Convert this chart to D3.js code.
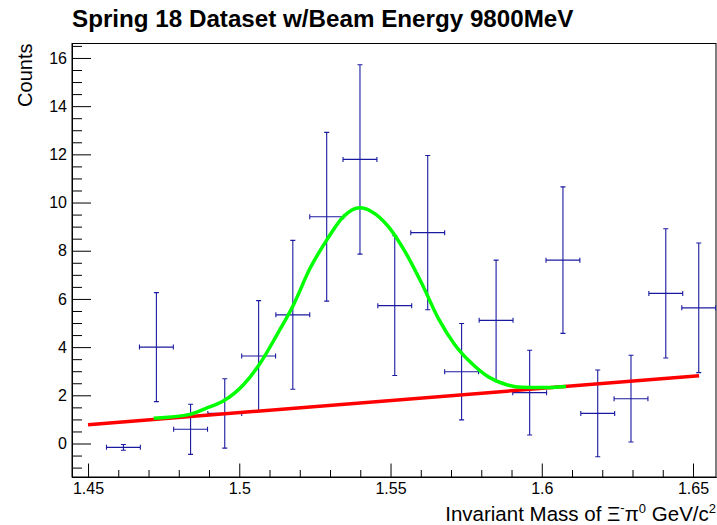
<!DOCTYPE html>
<html>
<head>
<meta charset="utf-8">
<script src="https://cdn.jsdelivr.net/npm/d3@7"></script>
<style>
  body { margin: 0; background: #fff; }
  svg text { font-family: "Liberation Sans", Arial, Helvetica, sans-serif; fill: #000; }
</style>
</head>
<body>
<div class="chart"></div>
<script>
//data
const binCenters = [1.4617, 1.4726, 1.4839, 1.4952, 1.5064, 1.5177, 1.5289, 1.5399, 1.5514,
                    1.5623, 1.5735, 1.5849, 1.5960, 1.6070, 1.6185, 1.6295, 1.6410, 1.6519];
const counts = [-0.16, 4.0, 0.59, 1.25, 3.63, 5.34, 9.41, 11.79, 5.72,
                8.75, 2.98, 5.11, 2.11, 7.61, 1.25, 1.86, 6.23, 5.63];
const countErrors = [0.12, 2.26, 1.04, 1.44, 2.3, 3.09, 3.5, 3.93, 2.9,
                     3.2, 2.0, 2.5, 1.76, 3.04, 1.8, 1.8, 2.68, 2.69];
const binHalfWidth = 0.0056;

//fit curves (green = signal + background, red = background)
const fitX = [1.4717, 1.4837, 1.4888, 1.4947, 1.5013, 1.5069, 1.5124, 1.5179, 1.5234, 1.5289,
              1.5344, 1.5399, 1.5438, 1.5493, 1.5548, 1.5603, 1.5658, 1.5713, 1.5768, 1.5823,
              1.5879, 1.5934, 1.6000, 1.6080];
const fitY = [1.05, 1.21, 1.45, 1.76, 2.43, 3.33, 4.50, 5.75, 7.27, 8.44,
              9.41, 9.78, 9.62, 9.00, 7.96, 6.65, 5.19, 4.09, 3.33, 2.77,
              2.46, 2.33, 2.32, 2.37];
const bgX = [1.45, 1.652];
const bgY = [0.78, 2.81];

const xTicks = [1.45, 1.5, 1.55, 1.6, 1.65];
const yTicks = [0, 2, 4, 6, 8, 10, 12, 14, 16];

const title = "Spring 18 Dataset w/Beam Energy 9800MeV";

//layout
const width = 717;
const height = 525;
const frame = {left: 72, right: 716, top: 43.5, bottom: 477};

const svg = d3.select(".chart")
    .append("svg")
    .attr("width", width)
    .attr("height", height);

const x = d3.scaleLinear().domain([1.4447, 1.6576]).range([frame.left, frame.right]);
const y = d3.scaleLinear().domain([-1.39, 16.6]).range([frame.bottom, frame.top]);

svg.append("defs").append("clipPath").attr("id", "clip")
    .append("rect")
    .attr("x", frame.left).attr("y", frame.top)
    .attr("width", frame.right - frame.left).attr("height", frame.bottom - frame.top);

//frame
svg.append("rect")
    .attr("x", frame.left).attr("y", frame.top)
    .attr("width", frame.right - frame.left).attr("height", frame.bottom - frame.top)
    .attr("fill", "none").attr("stroke", "#000").attr("stroke-width", 1);

//axes, ticks pointing into the frame like ROOT
const xMinor = d3.range(1.45, 1.6576, 0.01).filter(v => !xTicks.some(t => Math.abs(t - v) < 1e-6));
const yMinor = d3.range(-1, 16.6, 0.5).filter(v => !yTicks.includes(v));

svg.append("g").attr("transform", `translate(0,${frame.bottom})`)
    .call(d3.axisBottom(x).tickValues(xTicks).tickSize(-13.5).tickSizeOuter(0).tickPadding(6)
        .tickFormat(d3.format("~g")));
svg.append("g").attr("transform", `translate(0,${frame.bottom})`)
    .call(d3.axisBottom(x).tickValues(xMinor).tickSize(-7).tickSizeOuter(0).tickFormat(""));

svg.append("g").attr("transform", `translate(${frame.left},0)`)
    .call(d3.axisLeft(y).tickValues(yTicks).tickSize(-19).tickSizeOuter(0).tickPadding(5));
svg.append("g").attr("transform", `translate(${frame.left},0)`)
    .call(d3.axisLeft(y).tickValues(yMinor).tickSize(-10).tickSizeOuter(0).tickFormat(""));

svg.selectAll(".domain").attr("stroke", "#000");
svg.selectAll(".tick line").attr("stroke", "#000");
svg.selectAll(".tick text")
    .style("font-size", "16px")
    .style("font-family", "'Liberation Sans', Arial, sans-serif")
    .attr("fill", "#000");

//data points with error bars
const plot = svg.append("g").attr("clip-path", "url(#clip)");
const cap = 2.5;
const points = plot.selectAll("g.point")
    .data(binCenters.map((c, i) => ({x: c, y: counts[i], e: countErrors[i]})))
    .enter()
    .append("g")
    .attr("class", "point")
    .attr("stroke", "#1a1aa0")
    .attr("stroke-width", 1.1)
    .attr("fill", "none");

//horizontal bar with end caps
points.append("path")
    .attr("d", d => {
        const x0 = x(d.x - binHalfWidth), x1 = x(d.x + binHalfWidth), yy = y(d.y);
        return `M${x0},${yy}H${x1}M${x0},${yy - cap}V${yy + cap}M${x1},${yy - cap}V${yy + cap}`;
    });
//vertical bar with end caps
points.append("path")
    .attr("d", d => {
        const xx = x(d.x), y0 = y(d.y - d.e), y1 = y(d.y + d.e);
        return `M${xx},${y0}V${y1}M${xx - cap},${y0}H${xx + cap}M${xx - cap},${y1}H${xx + cap}`;
    });

//background fit
plot.append("path")
    .datum(bgX.map((v, i) => [v, bgY[i]]))
    .attr("fill", "none")
    .attr("stroke", "#ff0000")
    .attr("stroke-width", 3.5)
    .attr("d", d3.line().x(d => x(d[0])).y(d => y(d[1])));

//total fit
plot.append("path")
    .datum(fitX.map((v, i) => [v, fitY[i]]))
    .attr("fill", "none")
    .attr("stroke", "#00ff00")
    .attr("stroke-width", 3.5)
    .attr("d", d3.line().curve(d3.curveMonotoneX).x(d => x(d[0])).y(d => y(d[1])));

//titles
svg.append("text")
    .attr("x", 72).attr("y", 27)
    .style("font-size", "24.2px")
    .style("font-weight", "bold")
    .text(title);

svg.append("text")
    .attr("transform", `translate(32,${frame.top}) rotate(-90)`)
    .attr("text-anchor", "end")
    .style("font-size", "20px")
    .text("Counts");

const xTitle = svg.append("text")
    .attr("x", 716).attr("y", 521)
    .attr("text-anchor", "end")
    .style("font-size", "20.5px");
xTitle.append("tspan").text("Invariant Mass of \u039E");
xTitle.append("tspan").attr("dy", -9).style("font-size", "13px").text("-");
xTitle.append("tspan").attr("dy", 9).text("\u03C0");
xTitle.append("tspan").attr("dy", -8).style("font-size", "13px").text("0");
xTitle.append("tspan").attr("dy", 8).text(" GeV/c");
xTitle.append("tspan").attr("dy", -8).style("font-size", "13px").text("2");
</script>
</body>
</html>
